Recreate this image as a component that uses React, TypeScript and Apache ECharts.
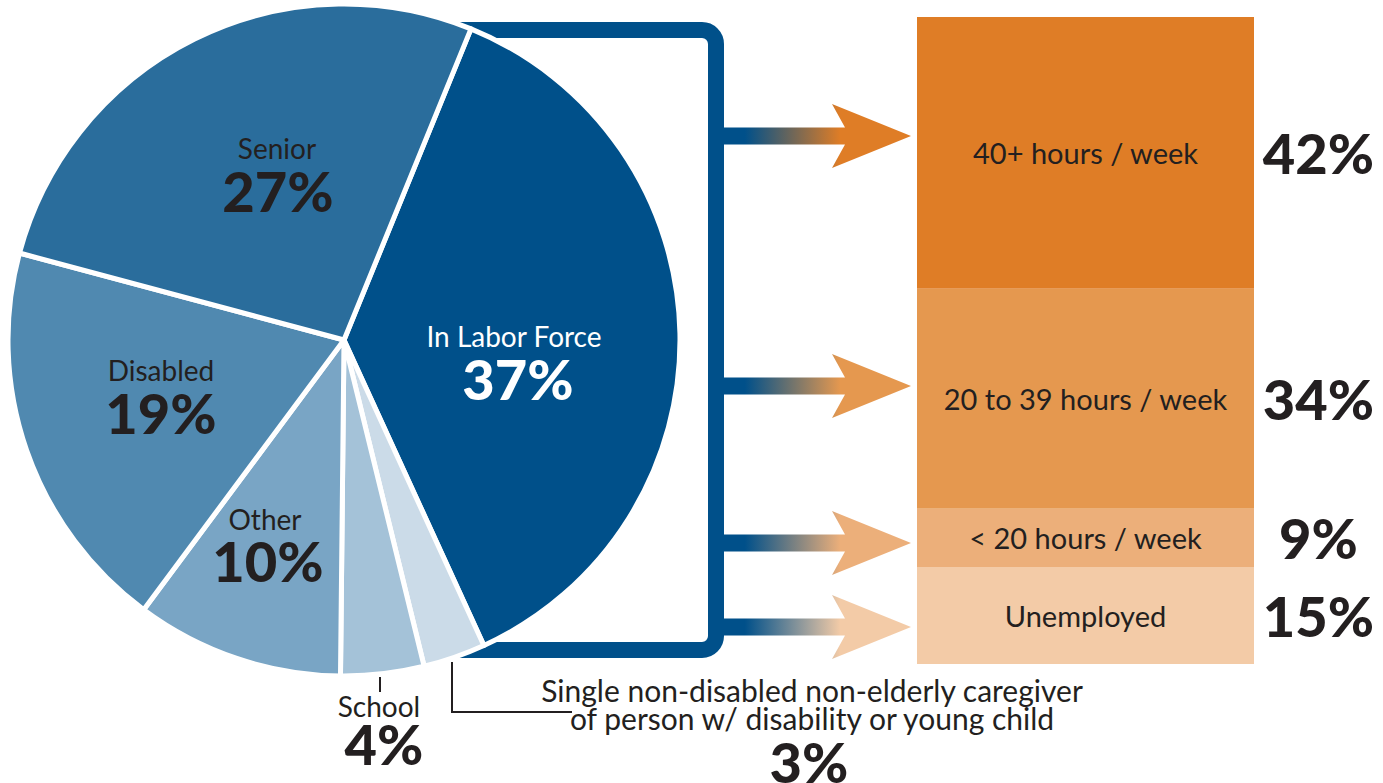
import React, { useEffect, useRef } from "react";
import * as echarts from "echarts";

// ---- data ----
const pieNames = [
  "In Labor Force",
  "Single non-disabled non-elderly caregiver\nof person w/ disability or young child",
  "School",
  "Other",
  "Disabled",
  "Senior",
];
const pieValues = [37, 3, 4, 10, 19, 27];
const pieColors = ["#00508a", "#cbdbe8", "#a4c2d8", "#79a5c5", "#5089b0", "#2a6d9c"];

const hourNames = ["40+ hours / week", "20 to 39 hours / week", "< 20 hours / week", "Unemployed"];
const hourValues = [42, 34, 9, 15];
const hourColors = ["#df7d26", "#e5984f", "#ecaf7a", "#f3cba7"];

// ---- layout (positions only) ----
const FONT = "Lato, 'Open Sans', sans-serif";
const DARK = "#231f20";
const NAME_WEIGHT = 400;
const pieLabelLayout = [
  { nx: 514, ny: 336, vx: 518, vy: 378, color: "#ffffff", fs: 28 },
  { nx: 812, ny: 704, vx: 809, vy: 761, color: DARK, fs: 30 },
  { nx: 379, ny: 706, vx: 384, vy: 743, color: DARK, fs: 28 },
  { nx: 265, ny: 519, vx: 268, vy: 560, color: DARK, fs: 28 },
  { nx: 161, ny: 370, vx: 161, vy: 412, color: DARK, fs: 28 },
  { nx: 277, ny: 148, vx: 278, vy: 190, color: DARK, fs: 28 },
];
const arrowY = [136, 386, 543, 627];

function arrow(yc: number, color: string) {
  const h = 8.5;
  return {
    type: "polygon",
    z: 5,
    silent: true,
    shape: {
      points: [
        [720, yc - h],
        [845, yc - h],
        [832, yc - 32],
        [911, yc],
        [832, yc + 32],
        [845, yc + h],
        [720, yc + h],
      ],
    },
    style: {
      fill: new echarts.graphic.LinearGradient(0, 0, 1, 0, [
        { offset: 0, color: "#00508a" },
        { offset: 0.13, color: "#00508a" },
        { offset: 0.63, color },
        { offset: 1, color },
      ]),
    },
  };
}

export default function App() {
  const ref = useRef<HTMLDivElement>(null);
  useEffect(() => {
    const chart = echarts.init(ref.current!, null, { renderer: "svg" });

    const graphics: any[] = [
      {
        type: "rect",
        z: 0,
        silent: true,
        shape: { x: 300, y: 30, width: 416, height: 620, r: 14 },
        style: { fill: "none", stroke: "#00508a", lineWidth: 16 },
      },
      ...arrowY.map((y, i) => arrow(y, hourColors[i])),
      {
        type: "line",
        z: 100,
        silent: true,
        shape: { x1: 380, y1: 677, x2: 380, y2: 692 },
        style: { stroke: DARK, lineWidth: 2 },
      },
      {
        type: "polyline",
        z: 100,
        silent: true,
        shape: { points: [[452, 662], [452, 712], [572, 712]] },
        style: { stroke: DARK, lineWidth: 2, fill: "none" },
      },
    ];

    pieNames.forEach((name, i) => {
      const L = pieLabelLayout[i];
      graphics.push({
        type: "text",
        z: 100,
        silent: true,
        x: L.nx,
        y: L.ny,
        style: {
          text: name,
          fill: L.color,
          font: `${NAME_WEIGHT} ${L.fs}px ${FONT}`,
          align: "center",
          verticalAlign: "middle",
          lineHeight: 28,
        },
      });
      graphics.push({
        type: "text",
        z: 100,
        silent: true,
        x: L.vx,
        y: L.vy,
        style: {
          text: pieValues[i] + "%",
          fill: L.color,
          font: `900 56px ${FONT}`,
          align: "center",
          verticalAlign: "middle",
          lineHeight: 42,
        },
      });
    });

    const barSeries: any[] = [];
    hourValues.forEach((v, i) => {
      barSeries.push({
        type: "bar",
        stack: "hours",
        xAxisIndex: 0,
        yAxisIndex: 0,
        data: [v],
        barWidth: "100%",
        silent: true,
        itemStyle: { color: hourColors[i] },
        label: {
          show: true,
          position: "inside",
          formatter: hourNames[i],
          color: DARK,
          fontSize: 29,
          fontFamily: FONT,
          fontWeight: NAME_WEIGHT,
        },
      });
      barSeries.push({
        type: "bar",
        stack: "pct",
        xAxisIndex: 1,
        yAxisIndex: 1,
        data: [v],
        barWidth: "100%",
        silent: true,
        itemStyle: { color: "rgba(0,0,0,0)" },
        label: {
          show: true,
          position: "inside",
          formatter: v + "%",
          color: DARK,
          fontSize: 56,
          fontFamily: FONT,
          fontWeight: 900,
        },
      });
    });

    chart.setOption({
      animation: false,
      backgroundColor: "#ffffff",
      grid: [
        { left: 917, top: 17, width: 337, height: 647 },
        { left: 1254, top: 17, width: 129, height: 647 },
      ],
      xAxis: [
        { type: "category", gridIndex: 0, data: ["hours"], show: false },
        { type: "category", gridIndex: 1, data: ["hours"], show: false },
      ],
      yAxis: [
        { type: "value", gridIndex: 0, min: 0, max: 100, inverse: true, show: false },
        { type: "value", gridIndex: 1, min: 0, max: 100, inverse: true, show: false },
      ],
      graphic: graphics,
      series: [
        {
          type: "pie",
          center: [344, 340],
          radius: 336,
          startAngle: 67.8,
          clockwise: true,
          silent: true,
          z: 2,
          label: { show: false },
          labelLine: { show: false },
          itemStyle: { borderColor: "#ffffff", borderWidth: 5 },
          data: pieNames.map((n, i) => ({
            name: n,
            value: pieValues[i],
            itemStyle: { color: pieColors[i] },
          })),
        },
        ...barSeries,
      ],
    });
    return () => chart.dispose();
  }, []);

  return (
    <div
      ref={ref}
      style={{ position: "absolute", left: 0, top: 0, width: 1383, height: 783 }}
    />
  );
}
